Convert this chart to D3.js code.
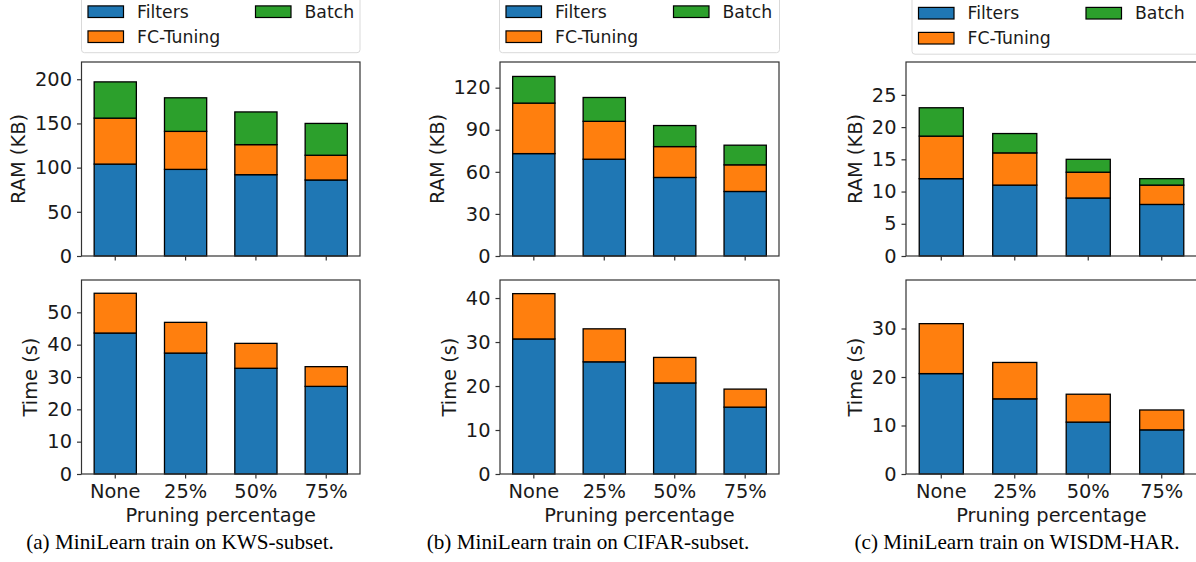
<!DOCTYPE html>
<html>
<head>
<meta charset="utf-8">
<script src="https://cdn.jsdelivr.net/npm/d3@7"></script>
<style>
  body { margin: 0; background: #fff; }
  svg { display: block; }
  .tick text { font-family: "DejaVu Sans", sans-serif; }
</style>
</head>
<body>
<script>
// categories and series
var categories = ["None", "25%", "50%", "75%"];
var seriesNames = ["Filters", "FC-Tuning", "Batch"];
var seriesColors = ["#1f77b4", "#ff7f0e", "#2ca02c"];

// (a) KWS-subset, per component
var kwsRamFilters = [104, 98, 92, 86];
var kwsRamFc = [52, 43, 34, 28];
var kwsRamBatch = [41, 38, 37, 36];
var kwsTimeFilters = [43.6, 37.4, 32.7, 27.1];
var kwsTimeFc = [12.3, 9.5, 7.7, 6.1];

// (b) CIFAR-subset
var cifarRamFilters = [73, 69, 56, 46];
var cifarRamFc = [36, 27, 22, 19];
var cifarRamBatch = [19, 17, 15, 14];
var cifarTimeFilters = [30.7, 25.5, 20.7, 15.2];
var cifarTimeFc = [10.3, 7.5, 5.8, 4.1];

// (c) WISDM-HAR
var wisdmRamFilters = [12, 11, 9, 8];
var wisdmRamFc = [6.6, 5, 4, 3];
var wisdmRamBatch = [4.4, 3, 2, 1];
var wisdmTimeFilters = [20.7, 15.5, 10.7, 9.1];
var wisdmTimeFc = [10.3, 7.5, 5.75, 4.1];

// tick labels and axis limits
var kwsRamTicks = [0, 50, 100, 150, 200];
var kwsTimeTicks = [0, 10, 20, 30, 40, 50];
var cifarRamTicks = [0, 30, 60, 90, 120];
var cifarTimeTicks = [0, 10, 20, 30, 40];
var wisdmRamTicks = [0, 5, 10, 15, 20, 25];
var wisdmTimeTicks = [0, 10, 20, 30];
var kwsLimits = [219.5, 60];
var cifarLimits = [138.3, 44.1];
var wisdmLimits = [30.1, 40];

var captions = [
    "(a) MiniLearn train on KWS-subset.",
    "(b) MiniLearn train on CIFAR-subset.",
    "(c) MiniLearn train on WISDM-HAR."
];

var W = 1196, H = 562;
var tickFont = 19.4;
var legendFont = 17.3;
var ramTop = 62, ramBottom = 256;
var timeTop = 280, timeBottom = 474;

var svg = d3.select("body").append("svg")
    .attr("width", W)
    .attr("height", H);

var panels = [
    {left: 81.5, right: 360, legendLeft: 81.5, legendRight: 360, legendDy: 0, captionX: 180,
        ram: [kwsRamFilters, kwsRamFc, kwsRamBatch], time: [kwsTimeFilters, kwsTimeFc],
        ramTicks: kwsRamTicks, timeTicks: kwsTimeTicks, limits: kwsLimits},
    {left: 500, right: 779, legendLeft: 499.5, legendRight: 779.5, legendDy: 0, captionX: 588,
        ram: [cifarRamFilters, cifarRamFc, cifarRamBatch], time: [cifarTimeFilters, cifarTimeFc],
        ramTicks: cifarRamTicks, timeTicks: cifarTimeTicks, limits: cifarLimits},
    {left: 906, right: 1197, legendLeft: 912, legendRight: 1203, legendDy: 1.5, captionX: 1017,
        ram: [wisdmRamFilters, wisdmRamFc, wisdmRamBatch], time: [wisdmTimeFilters, wisdmTimeFc],
        ramTicks: wisdmRamTicks, timeTicks: wisdmTimeTicks, limits: wisdmLimits}
];

var drawAxes = function (p, comps, ticks, ymax, top, bottom, label, showX) {
    var g = svg.append("g");

    var x = d3.scaleBand()
        .domain(categories)
        .range([p.left, p.right])
        .paddingInner(0.4)
        .paddingOuter(0.18);

    var y = d3.scaleLinear()
        .domain([0, ymax])
        .range([bottom, top]);

    var rows = categories.map(function (c, i) {
        var r = {cat: c};
        comps.forEach(function (arr, k) { r[seriesNames[k]] = arr[i]; });
        return r;
    });
    var stack = d3.stack().keys(seriesNames.slice(0, comps.length))(rows);

    g.selectAll("g.layer")
        .data(stack)
        .enter().append("g")
        .attr("class", "layer")
        .style("fill", function (d, i) { return seriesColors[i]; })
        .selectAll("rect")
        .data(function (d) { return d; })
        .enter().append("rect")
        .attr("x", function (d) { return x(d.data.cat); })
        .attr("width", x.bandwidth())
        .attr("y", function (d) { return y(d[1]); })
        .attr("height", function (d) { return y(d[0]) - y(d[1]); })
        .style("stroke", "#000")
        .style("stroke-width", 1.3);

    // frame
    g.append("rect")
        .attr("x", p.left)
        .attr("y", top)
        .attr("width", p.right - p.left)
        .attr("height", bottom - top)
        .style("fill", "none")
        .style("stroke", "#333")
        .style("stroke-width", 1.2);

    // y axis
    var yAxis = g.append("g")
        .attr("transform", "translate(" + p.left + ",0)")
        .call(d3.axisLeft(y).tickValues(ticks).tickSize(4.5).tickPadding(5).tickFormat(d3.format("d")));
    yAxis.select(".domain").remove();
    yAxis.selectAll(".tick line").style("stroke", "#333").style("stroke-width", 1.2);
    yAxis.selectAll(".tick text")
        .style("font-size", tickFont + "px")
        .style("fill", "#1a1a1a");

    var maxW = 0;
    yAxis.selectAll(".tick text").each(function () {
        maxW = Math.max(maxW, this.getBBox().width);
    });

    g.append("text")
        .attr("transform", "translate(" + (p.left - 9.5 - maxW - 16.4) + "," + ((top + bottom) / 2) + ") rotate(-90)")
        .attr("text-anchor", "middle")
        .attr("dominant-baseline", "central")
        .style("font-family", "DejaVu Sans, sans-serif")
        .style("font-size", tickFont + "px")
        .style("fill", "#1a1a1a")
        .text(label);

    // x axis
    var xAxis = g.append("g")
        .attr("transform", "translate(0," + bottom + ")")
        .call(d3.axisBottom(x).tickSize(4.5).tickPadding(5.5));
    xAxis.select(".domain").remove();
    xAxis.selectAll(".tick line").style("stroke", "#333").style("stroke-width", 1.2);
    xAxis.selectAll(".tick text")
        .style("font-size", tickFont + "px")
        .style("fill", "#1a1a1a")
        .style("display", showX ? null : "none");

    if (showX) {
        g.append("text")
            .attr("x", (p.left + p.right) / 2)
            .attr("y", 522)
            .attr("text-anchor", "middle")
            .style("font-family", "DejaVu Sans, sans-serif")
            .style("font-size", tickFont + "px")
            .style("fill", "#1a1a1a")
            .text("Pruning percentage");
    }
};

var drawLegend = function (p) {
    var g = svg.append("g");
    var bottom = 52.7 + p.legendDy;

    g.append("rect")
        .attr("x", p.legendLeft)
        .attr("y", -20)
        .attr("width", p.legendRight - p.legendLeft)
        .attr("height", bottom + 20)
        .attr("rx", 3)
        .style("fill", "#fff")
        .style("fill-opacity", 0.8)
        .style("stroke", "#d9d9d9")
        .style("stroke-width", 1);

    // filled column-wise in two columns: Filters, FC-Tuning | Batch
    var spots = [
        {dx: 6.5, row: 0},
        {dx: 6.5, row: 1},
        {dx: 174, row: 0}
    ];
    seriesNames.forEach(function (name, i) {
        var s = spots[i];
        var cy = 11.7 + p.legendDy + s.row * 25;
        g.append("rect")
            .attr("x", p.legendLeft + s.dx)
            .attr("y", cy - 5.8)
            .attr("width", 35.5)
            .attr("height", 11.6)
            .style("fill", seriesColors[i])
            .style("stroke", "#000")
            .style("stroke-width", 1.2);
        g.append("text")
            .attr("x", p.legendLeft + s.dx + 49)
            .attr("y", cy)
            .attr("dominant-baseline", "central")
            .style("font-family", "DejaVu Sans, sans-serif")
            .style("font-size", legendFont + "px")
            .style("fill", "#1a1a1a")
            .text(name);
    });
};

panels.forEach(function (p, i) {
    drawLegend(p);
    drawAxes(p, p.ram, p.ramTicks, p.limits[0], ramTop, ramBottom, "RAM (KB)", false);
    drawAxes(p, p.time, p.timeTicks, p.limits[1], timeTop, timeBottom, "Time (s)", true);

    svg.append("text")
        .attr("x", p.captionX)
        .attr("y", 549)
        .attr("text-anchor", "middle")
        .style("font-family", "Liberation Serif, serif")
        .style("font-size", "21.2px")
        .style("fill", "#000")
        .text(captions[i]);
});
</script>
</body>
</html>
